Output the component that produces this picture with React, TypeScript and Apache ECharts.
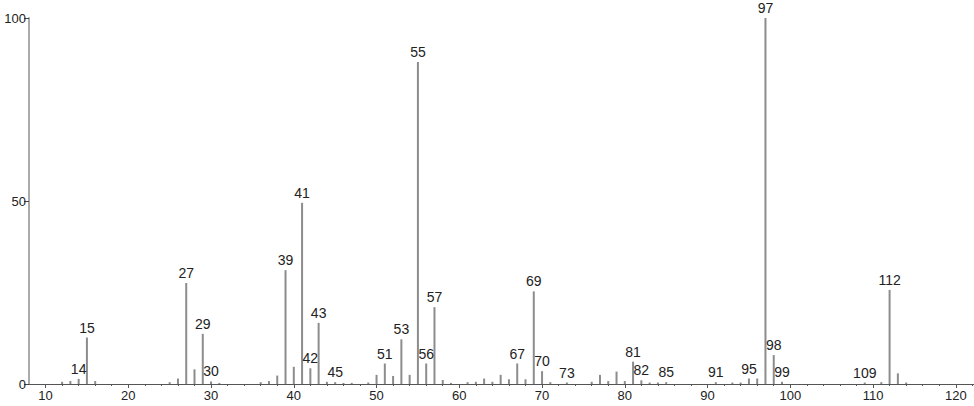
import React, { useEffect, useRef } from "react";
import * as echarts from "echarts";

const mzValues = [
  12, 13, 14, 15, 16, 25, 26, 27, 28, 29, 30, 31, 36, 37, 38, 39, 40, 41, 42, 43, 44, 45, 46, 47, 49,
  50, 51, 52, 53, 54, 55, 56, 57, 58, 59, 61, 62, 63, 64, 65, 66, 67, 68, 69, 70, 71, 73, 76, 77, 78,
  79, 80, 81, 82, 83, 84, 85, 91, 93, 94, 95, 96, 97, 98, 99, 109, 111, 112, 113, 114,
];
const intensities = [
  0.6, 0.8, 1.4, 12.7, 0.8, 0.5, 1.5, 27.6, 4.0, 13.7, 0.7, 0.3, 0.5, 0.8, 2.3, 31.1, 4.7, 49.5, 4.3, 16.7, 0.6, 0.5, 0.3, 0.3, 0.4,
  2.5, 5.6, 2.2, 12.2, 2.5, 88.0, 5.6, 21.0, 1.1, 0.3, 0.5, 0.6, 1.5, 0.6, 2.5, 1.3, 5.6, 1.3, 25.3, 3.5, 0.5, 0.4, 0.6, 2.5, 0.8,
  3.4, 0.8, 6.1, 1.0, 0.4, 0.4, 0.5, 0.5, 0.4, 0.4, 1.5, 1.5, 100, 7.9, 0.6, 0.4, 0.5, 25.7, 2.9, 0.4,
];
const labeledMz = [14, 15, 27, 29, 30, 39, 41, 42, 43, 45, 51, 53, 55, 56, 57, 67, 69, 70, 73, 81, 82, 85, 91, 95, 97, 98, 99, 109, 112];
const xMajorTicks = [10, 20, 30, 40, 50, 60, 70, 80, 90, 100, 110, 120];
const xMinorTicks = [
  12, 14, 16, 18, 22, 24, 26, 28, 32, 34, 36, 38, 42, 44, 46, 48, 52, 54, 56, 58, 62, 64, 66, 68,
  72, 74, 76, 78, 82, 84, 86, 88, 92, 94, 96, 98, 102, 104, 106, 108, 112, 114, 116, 118, 122,
];
const yTicks = [0, 50, 100];

const FONT = "'Liberation Sans', Arial, sans-serif";

export default function App() {
  const ref = useRef<HTMLDivElement>(null);
  useEffect(() => {
    if (!ref.current) return;
    const chart = echarts.init(ref.current, undefined, { renderer: "svg" });
    const data = mzValues.map((m, i) => ({
      value: [m, intensities[i]],
      label: { show: labeledMz.includes(m) },
    }));
    chart.setOption({
      animation: false,
      backgroundColor: "#ffffff",
      grid: { left: 29, right: 0, top: 18, bottom: 22, containLabel: false },
      xAxis: [
        {
          type: "value",
          position: "bottom",
          min: 8,
          max: 122.2,
          axisLine: { show: true, onZero: false, lineStyle: { color: "#555", width: 1 } },
          axisTick: { show: true, customValues: xMajorTicks, length: 4, lineStyle: { color: "#555", width: 1 } },
          axisLabel: { customValues: xMajorTicks, fontSize: 13, color: "#222", margin: 5, fontFamily: FONT },
          splitLine: { show: false },
        },
        {
          type: "value",
          position: "bottom",
          min: 8,
          max: 122.2,
          axisLine: { show: false },
          axisTick: { show: true, customValues: xMinorTicks, length: 2, lineStyle: { color: "#555", width: 1 } },
          axisLabel: { show: false },
          splitLine: { show: false },
        },
      ],
      yAxis: {
        type: "value",
        min: 0,
        max: 100,
        axisLine: { show: true, lineStyle: { color: "#aaa", width: 2 } },
        axisTick: { show: true, customValues: yTicks, length: 5, lineStyle: { color: "#444", width: 1 } },
        axisLabel: { customValues: yTicks, fontSize: 13, color: "#222", margin: 3, fontFamily: FONT },
        splitLine: { show: false },
      },
      series: [
        {
          type: "bar",
          xAxisIndex: 0,
          yAxisIndex: 0,
          barWidth: 2,
          itemStyle: { color: "#8c8c8c" },
          label: {
            show: false,
            position: "top",
            distance: 3,
            fontSize: 14,
            color: "#222",
            fontFamily: FONT,
            formatter: (p: any) => String(p.value[0]),
          },
          data,
        },
      ],
    });
    return () => chart.dispose();
  }, []);
  return (
    <div
      ref={ref}
      style={{ position: "fixed", left: 0, top: 0, width: 974, height: 406, background: "#fff" }}
    />
  );
}
